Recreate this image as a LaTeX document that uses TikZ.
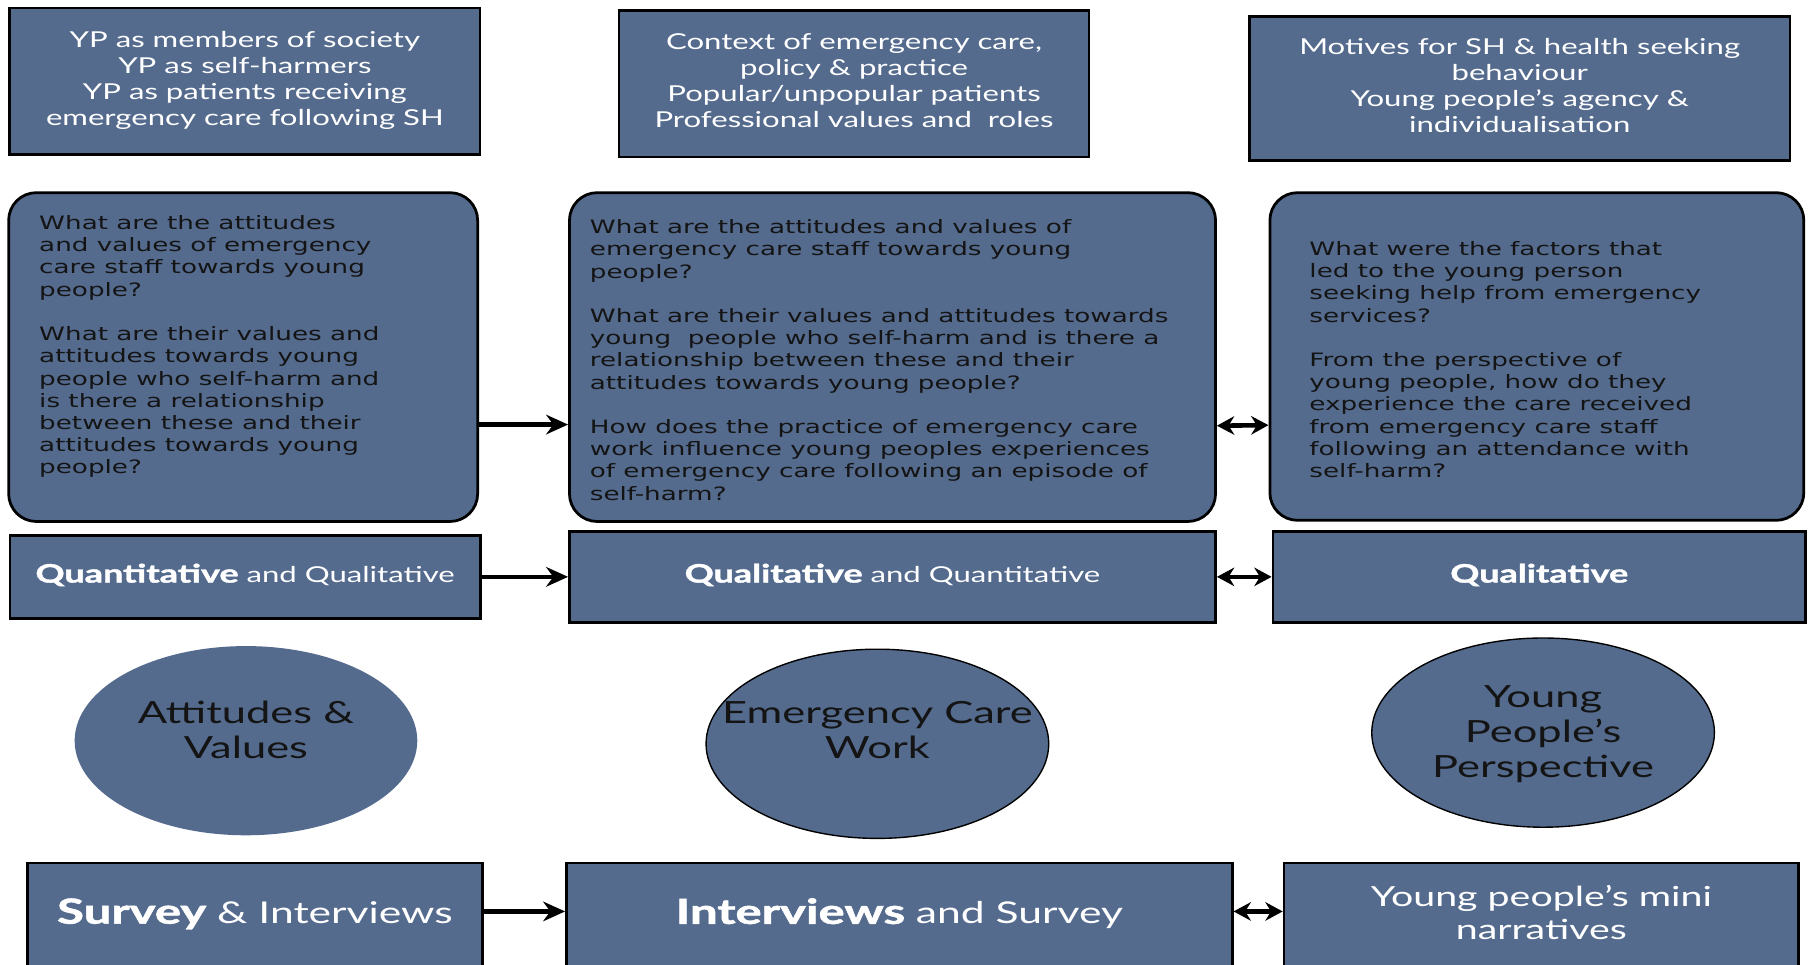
\documentclass[tikz,border=0pt]{standalone}
\usepackage{fontspec}
\usepackage{graphicx}
\usepackage{xcolor}
\usepackage{tikz}
\usetikzlibrary{arrows.meta}
\usetikzlibrary{shapes.geometric}
\newfontfamily\gillfont{Lato}
\newfontfamily\verdfont{DejaVu Sans}
\definecolor{SlateBox}{HTML}{546B8E}
\definecolor{InkText}{HTML}{141414}
% the slide was stretched sideways, so the text is too
\newcommand{\widel}[1]{\scalebox{1.42}[1]{\begin{tabular}{@{}l@{}}#1\end{tabular}}}
\newcommand{\widec}[1]{\scalebox{1.42}[1]{\begin{tabular}{@{}c@{}}#1\end{tabular}}}
\newcommand{\heavy}[1]{{\bfseries\addfontfeature{FakeBold=1.3}#1}}

\begin{document}
\begin{tikzpicture}[x=1pt, y=-1pt,
    topbox/.style={draw=black, line width=2.4pt, fill=SlateBox, inner sep=0pt,
      text=white, font=\gillfont\fontsize{19}{22.5}\selectfont},
    qbox/.style={draw=black, line width=2.4pt, fill=SlateBox, inner sep=0pt,
      rounded corners=24pt},
    qtext/.style={anchor=north west, inner sep=0pt, text=InkText,
      font=\verdfont\fontsize{16}{19.25}\selectfont},
    methbox/.style={draw=black, line width=2.4pt, fill=SlateBox, inner sep=0pt,
      text=white, font=\gillfont\fontsize{19}{21.5}\selectfont},
    lensnode/.style={ellipse, fill=SlateBox, inner sep=0pt,
      minimum width=297pt, minimum height=164pt},
    lenstext/.style={inner sep=0pt, text=InkText,
      font=\gillfont\fontsize{26.5}{30.5}\selectfont},
    databox/.style={draw=black, line width=2.4pt, fill=SlateBox, inner sep=0pt,
      text=white, font=\gillfont\fontsize{26}{29}\selectfont},
    onearrow/.style={line width=4pt, -{Stealth[length=19pt,width=17pt]}},
    twoarrow/.style={line width=4pt, {Stealth[length=15pt,width=16pt]}-{Stealth[length=15pt,width=16pt]}}]

\useasboundingbox (0,0) rectangle (1568,836);
\clip (0,0) rectangle (1568,836);
\fill[white] (0,0) rectangle (1568,836);

  % themes
\node[topbox, minimum width=407.5pt, minimum height=127pt] (t1) at (212.25,70.5)
  {\widec{YP as members of society\\ YP as self-harmers\\ YP as patients receiving\\ emergency care following SH}};
\node[topbox, minimum width=407.5pt, minimum height=127pt] (t2) at (740.25,72.5)
  {\widec{Context of emergency care,\\ policy \& practice\\ Popular/unpopular patients\\ Professional values and\ \ roles}};
\node[topbox, minimum width=468.5pt, minimum height=125pt] (t3) at (1317.25,76.5)
  {\widec{Motives for SH \& health seeking\\ behaviour\\ Young people’s agency \&\\ individualisation}};

  % research questions
\node[qbox, minimum width=406.5pt, minimum height=285pt] (q1) at (210.75,309.5) {};
\node[qbox, minimum width=560pt, minimum height=285pt] (q2) at (773.6,309.5) {};
\node[qbox, minimum width=462.8pt, minimum height=284pt] (q3) at (1332.1,309) {};

\node[qtext] (q1txt) at ([xshift=27.5pt, yshift=-19.5pt]q1.north west)
  {\widel{What are the attitudes\\ and values of emergency\\ care staff towards young\\ people?\\ \\
  What are their values and\\ attitudes towards young\\ people who self-harm and\\ is there a relationship\\
  between these and their\\ attitudes towards young\\ people?}};
\node[qtext] (q2txt) at ([xshift=18.7pt, yshift=-23pt]q2.north west)
  {\widel{What are the attitudes and values of\\ emergency care staff towards young\\ people?\\ \\
  What are their values and attitudes towards\\ young\ \ people who self-harm and is there a\\
  relationship between these and their\\ attitudes towards young people?\\ \\
  How does the practice of emergency care\\ work influence young peoples experiences\\
  of emergency care following an episode of\\ self-harm?}};
\node[qtext] (q3txt) at ([xshift=35.3pt, yshift=-42pt]q3.north west)
  {\widel{What were the factors that\\ led to the young person\\ seeking help from emergency\\ services?\\ \\
  From the perspective of\\ young people, how do they\\ experience the care received\\
  from emergency care staff\\ following an attendance with\\ self-harm?}};

  % methods
\node[methbox, minimum width=407.8pt, minimum height=72.3pt] (m1) at (212.5,500)
  {\widec{\heavy{\fontsize{22}{24}\selectfont Quantitative} and Qualitative}};
\node[methbox, minimum width=560pt, minimum height=79pt] (m2) at (773.6,500)
  {\widec{\heavy{\fontsize{22}{24}\selectfont Qualitative} and Quantitative}};
\node[methbox, minimum width=461.6pt, minimum height=79pt] (m3) at (1334.2,500)
  {\widec{\heavy{\fontsize{22}{24}\selectfont Qualitative}}};

  % lenses
\node[lensnode] (e1) at (213.2,642) {};
\node[lensnode, draw=black, line width=1.2pt] (e2) at (760.5,644.7) {};
\node[lensnode, draw=black, line width=1.2pt] (e3) at (1337.5,635) {};
\node[lenstext] (e1txt) at ([yshift=6pt]e1.center) {\widec{Attitudes \&\\ Values}};
\node[lenstext] (e2txt) at ([yshift=8.7pt]e2.center) {\widec{Emergency Care\\ Work}};
\node[lenstext] (e3txt) at ([yshift=-2.7pt]e3.center) {\widec{Young\\ People’s\\ Perspective}};

  % data sources
\node[databox, minimum width=394pt, minimum height=92pt] (b1) at (221,794)
  {\widec{\heavy{\fontsize{30}{32}\selectfont Survey} \& Interviews}};
\node[databox, minimum width=577pt, minimum height=92pt] (b2) at (779.5,794)
  {\widec{\heavy{\fontsize{30}{32}\selectfont Interviews} and Survey}};
\node[databox, minimum width=446pt, minimum height=92pt] (b3) at (1336,794)
  {\widec{\fontsize{24}{29}\selectfont Young people’s mini\\ \fontsize{24}{29}\selectfont narratives}};

  % links
\draw[onearrow] ([yshift=-58.5pt]q1.east) -- ([yshift=-58.5pt]q2.west);
\draw[twoarrow] ([yshift=-59.5pt]q2.east) -- ([yshift=-59.5pt]q3.west);
\draw[onearrow] (m1.east) -- (m2.west);
\draw[twoarrow] (m2.east) -- (m3.west);
\draw[onearrow] ([yshift=4pt]b1.east) -- ([yshift=4pt]b2.west);
\draw[twoarrow] ([yshift=4pt]b2.east) -- ([yshift=4pt]b3.west);
\end{tikzpicture}
\end{document}
